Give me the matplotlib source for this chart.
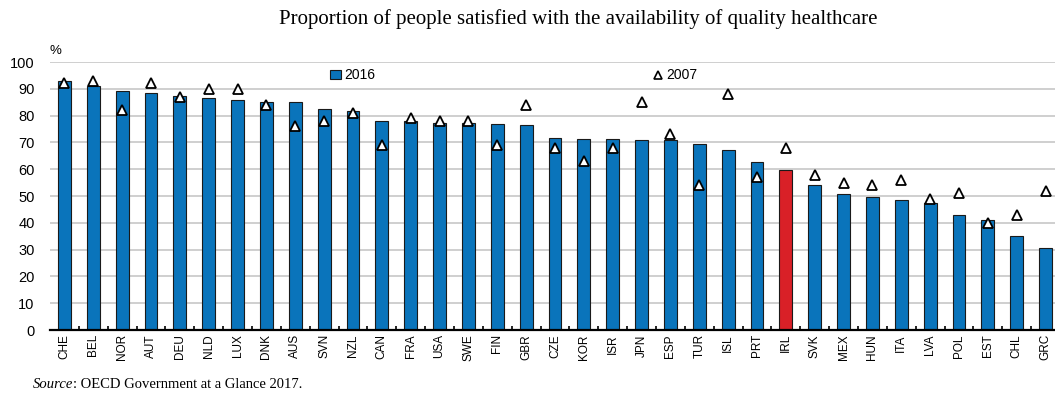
import numpy as np
import matplotlib
matplotlib.use("Agg")
from matplotlib import pyplot as plt
from matplotlib.lines import Line2D
from matplotlib.patches import Patch
from matplotlib.offsetbox import TextArea, HPacker, AnchoredOffsetbox

countries = ["CHE", "BEL", "NOR", "AUT", "DEU", "NLD", "LUX", "DNK", "AUS", "SVN",
             "NZL", "CAN", "FRA", "USA", "SWE", "FIN", "GBR", "CZE", "KOR", "ISR",
             "JPN", "ESP", "TUR", "ISL", "PRT", "IRL", "SVK", "MEX", "HUN", "ITA",
             "LVA", "POL", "EST", "CHL", "GRC"]
sat_2016 = [93, 91, 89, 88.5, 87.5, 86.5, 86, 85.2, 85.2, 82.6,
            81.8, 78.1, 78, 77.4, 77.4, 77, 76.4, 71.5, 71.4, 71.4,
            71, 70.9, 69.4, 67.2, 62.7, 59.6, 54, 50.6, 49.6, 48.4,
            47.3, 42.8, 40.9, 35.1, 30.7]
sat_2007 = [92, 93, 82, 92, 87, 90, 90, 84, 76, 78,
            81, 69, 79, 78, 78, 69, 84, 68, 63, 68,
            85, 73, 54, 88, 57, 68, 58, 55, 54, 56,
            49, 51, 40, 43, 52]
highlight = "IRL"

blue = "#0a74bb"
red = "#d92027"

fig = plt.figure(figsize=(10.55, 4.01), dpi=100)
ax = fig.add_axes([50 / 1055, 1 - 330 / 401, 1010 / 1055, 268 / 401])

x = np.arange(len(countries))
colors = [red if c == highlight else blue for c in countries]
ax.bar(x, sat_2016, width=0.45, color=colors, edgecolor="#1a1a1a", linewidth=0.8, zorder=2)
ax.plot(x, sat_2007, linestyle="none", marker="^", markersize=7.5,
        markerfacecolor="white", markeredgecolor="black", markeredgewidth=1.3, zorder=3)

ax.set_xlim(-0.5, len(countries) - 0.5)
ax.set_ylim(0, 100)
ax.set_yticks(np.arange(0, 101, 10))
ax.yaxis.grid(True, color="#cccccc", linewidth=1.3, zorder=0)
ax.set_axisbelow(True)
for side in ["left", "right", "top"]:
    ax.spines[side].set_visible(False)
ax.spines["bottom"].set_linewidth(1.6)
ax.spines["bottom"].set_zorder(4)

ax.set_xticks(x)
ax.set_xticklabels(countries, rotation=90, fontsize=8.5, family="Liberation Sans")
ax.tick_params(axis="x", length=0, pad=3)
ax.set_xticks(x[:-1] + 0.5, minor=True)
ax.tick_params(axis="x", which="minor", direction="in", length=3, width=1.2)
ax.tick_params(axis="y", length=0, labelsize=10.5, pad=11)
for lab in ax.get_yticklabels():
    lab.set_family("Liberation Sans")

ax.text(-0.5, 104, "%", fontsize=9.5, family="Liberation Sans", ha="left", va="center")

leg1 = ax.legend(handles=[Patch(facecolor=blue, edgecolor="#1a1a1a", linewidth=0.8)], labels=["2016"],
                 loc="center left", bbox_to_anchor=(0.265, 0.95), frameon=False,
                 handlelength=0.8, handleheight=0.6, handletextpad=0.2,
                 prop={"family": "Liberation Sans", "size": 10})
ax.add_artist(leg1)
ax.legend(handles=[Line2D([], [], linestyle="none", marker="^", markersize=6,
                          markerfacecolor="white", markeredgecolor="black", markeredgewidth=1.2)],
          labels=["2007"], loc="center left", bbox_to_anchor=(0.585, 0.95), frameon=False,
          handlelength=0.7, handletextpad=0.2, prop={"family": "Liberation Sans", "size": 10})

fig.text(578 / 1055, 1 - 19 / 401, "Proportion of people satisfied with the availability of quality healthcare",
         ha="center", va="center", fontsize=15, family="Liberation Serif")

# source line: italic "Source" followed by plain text
src = HPacker(children=[
    TextArea("Source", textprops=dict(style="italic", fontsize=10.5, family="Liberation Serif")),
    TextArea(": OECD Government at a Glance 2017.", textprops=dict(fontsize=10.5, family="Liberation Serif")),
], sep=0, align="baseline")
fig.add_artist(AnchoredOffsetbox(loc="center left", child=src, frameon=False, pad=0, borderpad=0,
                                 bbox_to_anchor=(33 / 1055, 1 - 385 / 401),
                                 bbox_transform=fig.transFigure))

fig.savefig("out.png", dpi=100)
